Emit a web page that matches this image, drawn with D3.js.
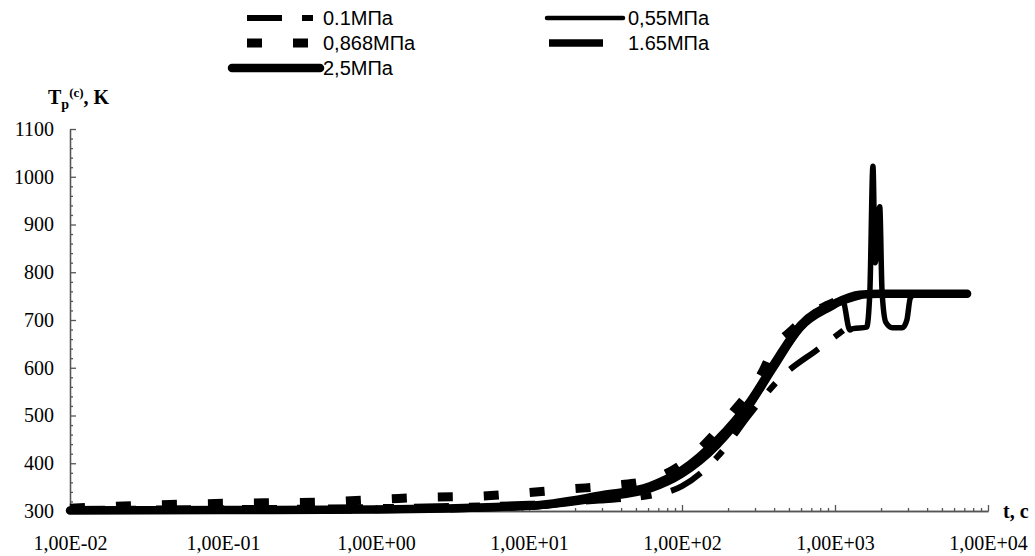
<!DOCTYPE html>
<html lang="ru">
<head>
  <meta charset="UTF-8">
  <title>Tp(c) от t</title>
  <script src="https://d3js.org/d3.v7.min.js"></script>
  <style>
    body { margin: 0; background: #fff; }
    .axis path, .axis line { stroke: #555; stroke-width: 1.3; }
    .axis text { font-family: 'Liberation Serif', 'Times New Roman', serif !important; font-size: 20px !important; fill: #000; }
    .legend text { font-family: 'Liberation Sans', Arial, sans-serif; font-size: 20px; fill: #000; }
    .axis-title { font-family: 'Liberation Serif', 'Times New Roman', serif; font-weight: bold; font-size: 20px; }
  </style>
</head>
<body>
  <svg id="chart" width="1035" height="556"></svg>
  <script>
    // данные: время t, с и температура Tp, K
    const seriesNames = ["0.1МПа", "0,55МПа", "0,868МПа", "1.65МПа", "2,5МПа"];

    const t01 = [0.01, 0.1, 1, 10, 29, 62, 100, 170, 278, 445, 760, 1000, 1380];
    const T01 = [304, 306, 308, 315, 322, 332, 352, 413, 503, 580, 637, 665, 700];

    const t055 = [0.01, 0.1, 1, 10, 30, 62, 100, 170, 280, 400, 600, 1000, 1125, 1250, 1310, 1610, 1690,
                  1770, 1830, 1960, 2030, 2150, 2370, 2760, 2950, 3100, 3300];
    const T055 = [300, 301, 302, 308, 326, 344, 375, 435, 520, 598, 682, 730, 740, 679, 682, 685, 760,
                  1022, 820, 937, 760, 695, 684, 684, 700, 745, 755];

    const t0868 = [0.01, 0.03, 0.1, 0.45, 1.15, 2.3, 4.6, 9.3, 18.5, 37, 62, 100, 215, 333, 394, 525, 700, 1000];
    const T0868 = [306, 312, 316, 319, 325, 329, 331, 338, 346, 354, 365, 398, 507, 589, 637, 679, 712, 738];

    const t165 = [0.01, 1, 10, 30, 62, 100, 170, 280, 400, 600, 1000, 1500];
    const T165 = [302, 303, 310, 330, 348, 380, 440, 525, 605, 686, 733, 752];

    const t25 = [0.01, 0.1, 1, 10, 30, 62, 100, 170, 280, 400, 600, 1000, 1450, 2000, 7300];
    const T25 = [301, 302, 303, 311, 333, 352, 385, 448, 530, 608, 690, 735, 753, 755, 755];

    const xTicks = [0.01, 0.1, 1, 10, 100, 1000, 10000];
    const xTickLabels = ["1,00E-02", "1,00E-01", "1,00E+00", "1,00E+01", "1,00E+02", "1,00E+03", "1,00E+04"];
    const yTicks = [300, 400, 500, 600, 700, 800, 900, 1000, 1100];

    const svg = d3.select("#chart");

    const x = d3.scaleLog().domain([0.01, 10000]).range([70, 988]);
    const y = d3.scaleLinear().domain([300, 1100]).range([511, 129]);

    // второстепенные деления
    const xMinor = [];
    for (let e = -2; e < 4; e++) for (let k = 2; k <= 9; k++) xMinor.push(k * Math.pow(10, e));
    const yMinor = d3.range(300, 1101, 20).filter(v => v % 100 !== 0);

    svg.append("g").attr("class", "axis")
      .attr("transform", "translate(0,511)")
      .call(d3.axisBottom(x).tickValues(xMinor).tickSizeInner(-3).tickSizeOuter(0).tickFormat(""));
    svg.append("g").attr("class", "axis")
      .attr("transform", "translate(0,511)")
      .call(d3.axisBottom(x).tickValues(xTicks).tickSizeInner(-6).tickSizeOuter(0)
        .tickPadding(25).tickFormat((d, i) => xTickLabels[i]));

    svg.append("g").attr("class", "axis")
      .attr("transform", "translate(70,0)")
      .call(d3.axisLeft(y).tickValues(yMinor).tickSizeInner(-3).tickSizeOuter(0).tickFormat(""));
    svg.append("g").attr("class", "axis")
      .attr("transform", "translate(70,0)")
      .call(d3.axisLeft(y).tickValues(yTicks).tickSizeInner(-6).tickSizeOuter(0).tickPadding(16)
        .tickFormat(d => String(d)));

    // стили линий
    const styles = [
      { w: 6, dash: "35,20,11,20", cap: "butt" },
      { w: 5.5, dash: null, cap: "round" },
      { w: 9, dash: "15,31", cap: "butt" },
      { w: 7.5, dash: "54,22", cap: "butt" },
      { w: 8.5, dash: null, cap: "round" }
    ];
    const series = [
      t01.map((t, i) => [t, T01[i]]),
      t055.map((t, i) => [t, T055[i]]),
      t0868.map((t, i) => [t, T0868[i]]),
      t165.map((t, i) => [t, T165[i]]),
      t25.map((t, i) => [t, T25[i]])
    ];

    const line = d3.line()
      .x(d => x(d[0]))
      .y(d => y(d[1]))
      .curve(d3.curveMonotoneX);

    svg.selectAll(".curve")
      .data(series)
      .enter()
      .append("path")
      .attr("class", "curve")
      .attr("d", line)
      .attr("fill", "none")
      .attr("stroke", "#000")
      .attr("stroke-width", (d, i) => styles[i].w)
      .attr("stroke-dasharray", (d, i) => styles[i].dash)
      .attr("stroke-linecap", (d, i) => styles[i].cap)
      .attr("stroke-linejoin", "round");

    // легенда
    const legendPos = [
      { x: 247, y: 18, len: 66, tx: 323 },
      { x: 547, y: 18, len: 76, tx: 628 },
      { x: 247, y: 43, len: 66, tx: 323 },
      { x: 549, y: 43, len: 74, tx: 628 },
      { x: 232, y: 68, len: 88, tx: 323 }
    ];
    const legend = svg.append("g").attr("class", "legend");
    seriesNames.forEach((name, i) => {
      const p = legendPos[i];
      legend.append("line")
        .attr("x1", p.x).attr("x2", p.x + p.len)
        .attr("y1", p.y).attr("y2", p.y)
        .attr("stroke", "#000")
        .attr("stroke-width", i === 1 ? 4.5 : styles[i].w)
        .attr("stroke-dasharray", styles[i].dash)
        .attr("stroke-linecap", styles[i].cap);
      legend.append("text")
        .attr("x", p.tx).attr("y", p.y)
        .attr("dy", "0.36em")
        .text(name);
    });

    // подписи осей
    const yTitle = svg.append("text").attr("class", "axis-title")
      .attr("x", 48).attr("y", 104);
    yTitle.append("tspan").text("T");
    yTitle.append("tspan").attr("dy", 5).style("font-size", "14px").text("p");
    yTitle.append("tspan").attr("dy", -12).style("font-size", "13px").text("(c)");
    yTitle.append("tspan").attr("dy", 7).text(", K");

    svg.append("text").attr("class", "axis-title")
      .attr("x", 1003).attr("y", 518)
      .text("t, c");
  </script>
</body>
</html>
